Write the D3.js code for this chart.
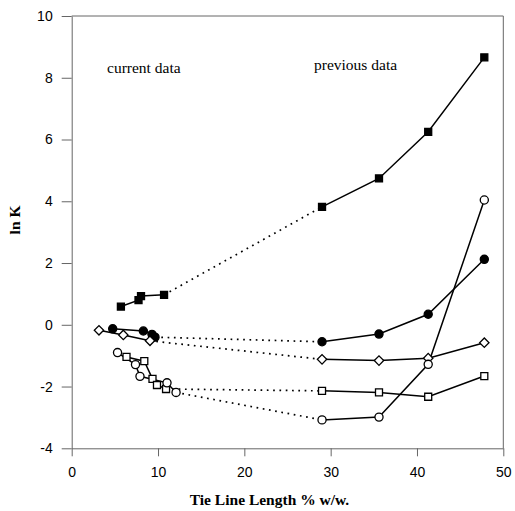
<!DOCTYPE html>
<html>
<head>
<meta charset="utf-8">
<script src="https://cdn.jsdelivr.net/npm/d3@7"></script>
<style>
  html, body { margin: 0; padding: 0; background: #fff; }
  svg { display: block; }
</style>
</head>
<body>
<svg id="chart" width="515" height="511"></svg>
<script>
// Tie line length (% w/w) vs ln K, current work and earlier literature values
const xTicks = [0, 10, 20, 30, 40, 50];
const yTicks = [-4, -2, 0, 2, 4, 6, 8, 10];

// current data
const currentFilledSquare = [[5.7, 0.59], [7.74, 0.80], [8.03, 0.93], [10.7, 0.97]];
const currentFilledCircle = [[4.75, -0.13], [8.3, -0.20], [9.3, -0.31], [9.65, -0.40]];
const currentDiamond      = [[3.16, -0.18], [5.98, -0.33], [9.07, -0.52]];
const currentOpenSquare   = [[6.35, -1.04], [8.41, -1.18], [9.36, -1.75], [9.88, -1.95], [10.93, -2.08]];
const currentOpenCircle   = [[5.31, -0.90], [7.39, -1.29], [7.91, -1.67], [11.04, -1.88], [12.09, -2.19]];

// previous data
const previousFilledSquare = [[29.0, 3.82], [35.6, 4.74], [41.3, 6.25], [47.8, 8.66]];
const previousFilledCircle = [[29.0, -0.55], [35.6, -0.30], [41.3, 0.34], [47.8, 2.12]];
const previousDiamond      = [[29.0, -1.12], [35.6, -1.16], [41.3, -1.08], [47.8, -0.58]];
const previousOpenSquare   = [[29.0, -2.14], [35.6, -2.19], [41.3, -2.33], [47.8, -1.66]];
const previousOpenCircle   = [[29.0, -3.08], [35.6, -2.99], [41.3, -1.28], [47.8, 4.04]];

const svg = d3.select("#chart");
const plotLeft = 71.7, plotRight = 503.3, plotTop = 16, plotBottom = 448.3;

const x = d3.scaleLinear().domain([0, 50]).range([plotLeft, plotRight]);
const y = d3.scaleLinear().domain([-4, 10]).range([plotBottom, plotTop]);

const axisColor = "#666";
const tickFont = "'Liberation Sans', Arial, sans-serif";
const serifFont = "'Liberation Serif', 'Times New Roman', serif";
const plainNumber = d => String(d);

// frame: top and right edges
svg.append("line").attr("x1", plotLeft).attr("x2", plotRight).attr("y1", plotTop).attr("y2", plotTop)
  .attr("stroke", axisColor).attr("stroke-width", 1);
svg.append("line").attr("x1", plotRight).attr("x2", plotRight).attr("y1", plotTop).attr("y2", plotBottom)
  .attr("stroke", axisColor).attr("stroke-width", 1);

const gx = svg.append("g").attr("transform", `translate(0,${plotBottom})`)
  .call(d3.axisBottom(x).tickValues(xTicks).tickFormat(plainNumber)
    .tickSize(8).tickSizeOuter(0).tickPadding(11));
const gy = svg.append("g").attr("transform", `translate(${plotLeft},0)`)
  .call(d3.axisLeft(y).tickValues(yTicks).tickFormat(plainNumber)
    .tickSize(10).tickSizeOuter(0).tickPadding(9));

[gx, gy].forEach(g => {
  g.select(".domain").attr("stroke", axisColor);
  g.selectAll(".tick line").attr("stroke", axisColor);
  g.selectAll(".tick text").attr("fill", "#000")
    .style("font-family", tickFont).style("font-size", "14px");
});

// axis titles
svg.append("text").attr("x", (plotLeft + plotRight) / 2 - 18).attr("y", 505)
  .attr("text-anchor", "middle")
  .style("font-family", serifFont).style("font-weight", "bold").style("font-size", "15.5px")
  .text("Tie Line Length % w/w.");
svg.append("text").attr("transform", "translate(20,220) rotate(-90)")
  .attr("text-anchor", "middle")
  .style("font-family", serifFont).style("font-weight", "bold").style("font-size", "15.5px")
  .text("ln K");

// annotations
svg.append("text").attr("x", 107).attr("y", 73)
  .style("font-family", serifFont).style("font-size", "15.5px").text("current data");
svg.append("text").attr("x", 314).attr("y", 70)
  .style("font-family", serifFont).style("font-size", "15.5px").text("previous data");

const line = d3.line().x(d => x(d[0])).y(d => y(d[1]));

const series = [
  { cur: currentFilledSquare, prev: previousFilledSquare, shape: "square", fill: "#000" },
  { cur: currentFilledCircle, prev: previousFilledCircle, shape: "circle", fill: "#000" },
  { cur: currentDiamond,      prev: previousDiamond,      shape: "diamond", fill: "#fff" },
  { cur: currentOpenSquare,   prev: previousOpenSquare,   shape: "square", fill: "#fff" },
  { cur: currentOpenCircle,   prev: previousOpenCircle,   shape: "circle", fill: "#fff" }
];

const lines = svg.append("g");
const marks = svg.append("g");

series.forEach(s => {
  // dotted bridge between the two data sets
  lines.append("path")
    .attr("d", line([s.cur[s.cur.length - 1], s.prev[0]]))
    .attr("fill", "none").attr("stroke", "#000")
    .attr("stroke-width", 1.7).attr("stroke-dasharray", "1.7,4.6");
  [s.cur, s.prev].forEach(pts => {
    lines.append("path").attr("d", line(pts))
      .attr("fill", "none").attr("stroke", "#000").attr("stroke-width", 1.5);
  });
});

const shapes = {
  square: d3.symbol().type(d3.symbolSquare).size(49),
  circle: d3.symbol().type(d3.symbolCircle).size(52),
  diamond: d3.symbol().type(d3.symbolSquare).size(44)
};

series.forEach(s => {
  const pts = s.cur.concat(s.prev);
  marks.selectAll(null).data(pts).enter().append("path")
    .attr("d", shapes[s.shape]())
    .attr("transform", d => `translate(${x(d[0])},${y(d[1])})` + (s.shape === "diamond" ? " rotate(45)" : ""))
    .attr("fill", s.fill).attr("stroke", "#000").attr("stroke-width", 1.3);
});
</script>
</body>
</html>
